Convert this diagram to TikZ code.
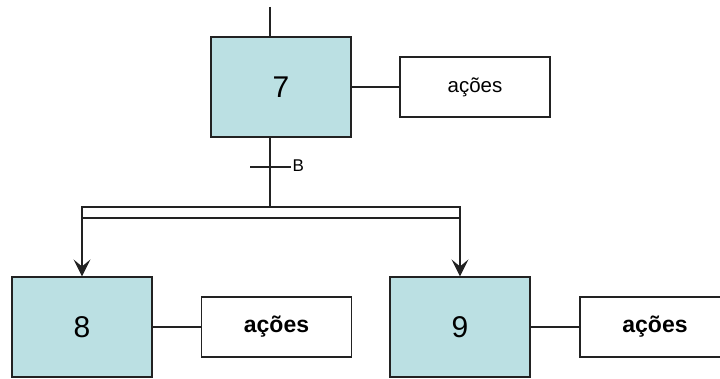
\documentclass[tikz,border=0pt]{standalone}
\usepackage{fontspec}
\setmainfont{Liberation Sans}
\usetikzlibrary{arrows.meta}
\definecolor{stepfill}{HTML}{BBE0E3}
\definecolor{edge}{HTML}{222222}
\begin{document}
\begin{tikzpicture}[x=1pt,y=-1pt, line width=1.1pt,
  ln/.style={draw=edge},
  stepbox/.style={draw=edge, fill=stepfill, minimum width=140pt, minimum height=100pt,
    inner sep=0pt, font=\fontsize{30}{30}\selectfont},
  actbox/.style={draw=edge, fill=white, minimum width=150pt, minimum height=60pt,
    inner sep=0pt, font=\fontsize{20.5}{22}\selectfont},
  actbold/.style={actbox, font=\fontsize{23}{24}\selectfont\bfseries},
  flow/.style={ln, -{Stealth[length=17pt,width=17pt,inset=7pt]}}]
\useasboundingbox (0,0) rectangle (720,379);
\fill[white] (0,0) rectangle (720,379);

% step 7 with its actions
\node[stepbox] (s7) at (281,87) {7};
\node[actbox] (a7) at (475,87) {ações};
\draw[ln] (s7.east) -- (a7.west);

% incoming link and transition B
\coordinate (in) at (270,7);
\coordinate (s7t) at (270,37);
\coordinate (s7b) at (270,137);
\coordinate (tl) at (250,167);
\coordinate (tr) at (291,167);
\coordinate (dtop) at (270,207);
\draw[ln] (in) -- (s7t);
\draw[ln] (s7b) -- (dtop);
\draw[ln] (tl) -- (tr);
\node[anchor=west, inner sep=0pt, font=\fontsize{17}{17}\selectfont] (lb) at (292,165.5) {B};

% simultaneous divergence (double bar)
\coordinate (dl) at (82,207);
\coordinate (dr) at (460,218);
\draw[ln] (dl) rectangle (dr);
\coordinate (d8) at (82,218);
\coordinate (d9) at (460,218);

% steps 8 and 9 with their actions
\node[stepbox] (s8) at (82,327) {8};
\node[actbold] (a8) at (276.5,327) {ações};
\node[stepbox] (s9) at (460,327) {9};
\node[actbold] (a9) at (655,327) {ações};
\draw[ln] (s8.east) -- (a8.west);
\draw[ln] (s9.east) -- (a9.west);
\draw[flow] (d8) -- (s8.north);
\draw[flow] (d9) -- (s9.north);
\end{tikzpicture}
\end{document}
